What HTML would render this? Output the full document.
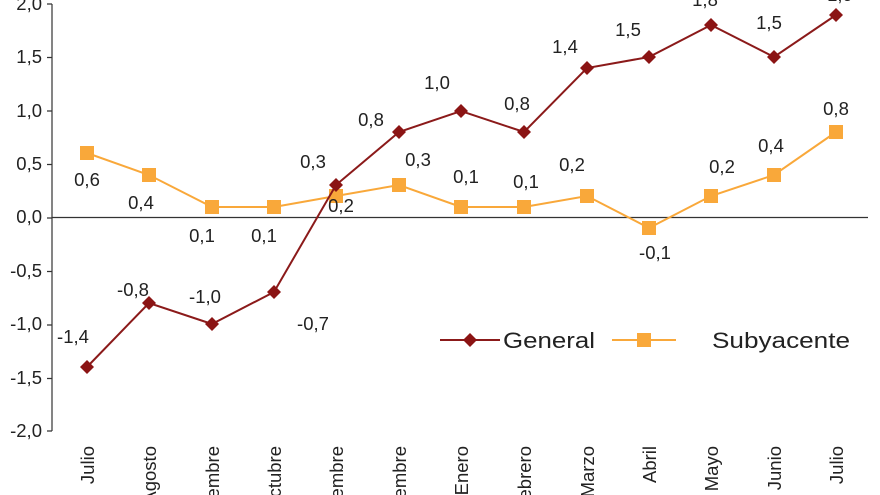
<!DOCTYPE html>
<html><head><meta charset="utf-8"><style>html,body{margin:0;background:#fff;overflow:hidden;width:880px;height:495px}svg{display:block}text{font-family:"Liberation Sans",sans-serif;fill:#222;font-size:18.5px}</style></head><body>
<svg width="880" height="495" xmlns="http://www.w3.org/2000/svg">
<g stroke="#333" stroke-width="1.2" fill="none">
<path d="M52,4V431M47,4H52M47,57.5H52M47,111H52M47,164.5H52M47,218H52M47,271.5H52M47,325H52M47,378.5H52M47,431H52"/>
<path d="M52,217.5H868"/>
</g>
<g text-anchor="end">
<text x="42" y="10">2,0</text><text x="42" y="63">1,5</text><text x="42" y="117">1,0</text><text x="42" y="170">0,5</text><text x="42" y="223">0,0</text><text x="42" y="277">-0,5</text><text x="42" y="330">-1,0</text><text x="42" y="384">-1,5</text><text x="42" y="437">-2,0</text>
</g>
<g text-anchor="end">
<text transform="translate(94,446) rotate(-90)">Julio</text>
<text transform="translate(156,446) rotate(-90)">Agosto</text>
<text transform="translate(219,446) rotate(-90)">Septiembre</text>
<text transform="translate(281,446) rotate(-90)">Octubre</text>
<text transform="translate(343,446) rotate(-90)">Noviembre</text>
<text transform="translate(406,446) rotate(-90)">Diciembre</text>
<text transform="translate(468,446) rotate(-90)">Enero</text>
<text transform="translate(531,446) rotate(-90)">Febrero</text>
<text transform="translate(594,446) rotate(-90)">Marzo</text>
<text transform="translate(656,446) rotate(-90)">Abril</text>
<text transform="translate(718,446) rotate(-90)">Mayo</text>
<text transform="translate(781,446) rotate(-90)">Junio</text>
<text transform="translate(843,446) rotate(-90)">Julio</text>
</g>
<polyline fill="none" stroke="#F9A83A" stroke-width="2" points="87,153 149,175 212,207 274,207 336,196 399,185 461,207 524,207 587,196 649,228 711,196 774,175 836,132"/>
<g fill="#F9A83A">
<rect x="80" y="146" width="14" height="14"/><rect x="142" y="168" width="14" height="14"/><rect x="205" y="200" width="14" height="14"/><rect x="267" y="200" width="14" height="14"/><rect x="329" y="189" width="14" height="14"/><rect x="392" y="178" width="14" height="14"/><rect x="454" y="200" width="14" height="14"/><rect x="517" y="200" width="14" height="14"/><rect x="580" y="189" width="14" height="14"/><rect x="642" y="221" width="14" height="14"/><rect x="704" y="189" width="14" height="14"/><rect x="767" y="168" width="14" height="14"/><rect x="829" y="125" width="14" height="14"/>
</g>
<polyline fill="none" stroke="#8B1A1A" stroke-width="2" points="87,367 149,303 212,324 274,292 336,185 399,132 461,111 524,132 587,68 649,57 711,25 774,57 836,15"/>
<g fill="#8B1414">
<path d="M87,360l7,7l-7,7l-7,-7z"/><path d="M149,296l7,7l-7,7l-7,-7z"/><path d="M212,317l7,7l-7,7l-7,-7z"/><path d="M274,285l7,7l-7,7l-7,-7z"/><path d="M336,178l7,7l-7,7l-7,-7z"/><path d="M399,125l7,7l-7,7l-7,-7z"/><path d="M461,104l7,7l-7,7l-7,-7z"/><path d="M524,125l7,7l-7,7l-7,-7z"/><path d="M587,61l7,7l-7,7l-7,-7z"/><path d="M649,50l7,7l-7,7l-7,-7z"/><path d="M711,18l7,7l-7,7l-7,-7z"/><path d="M774,50l7,7l-7,7l-7,-7z"/><path d="M836,8l7,7l-7,7l-7,-7z"/>
</g>
<g text-anchor="middle">
<text x="73" y="343">-1,4</text><text x="133" y="296">-0,8</text><text x="205" y="303">-1,0</text><text x="313" y="330">-0,7</text><text x="313" y="168">0,3</text><text x="371" y="126">0,8</text><text x="437" y="89">1,0</text><text x="517" y="110">0,8</text><text x="565" y="53">1,4</text><text x="628" y="36">1,5</text><text x="705" y="6">1,8</text><text x="769" y="29">1,5</text><text x="840" y="1">1,9</text>
<text x="87" y="186">0,6</text><text x="141" y="209">0,4</text><text x="202" y="242">0,1</text><text x="264" y="242">0,1</text><text x="341" y="212">0,2</text><text x="418" y="166">0,3</text><text x="466" y="183">0,1</text><text x="526" y="188">0,1</text><text x="572" y="171">0,2</text><text x="655" y="259">-0,1</text><text x="722" y="173">0,2</text><text x="771" y="152">0,4</text><text x="836" y="115">0,8</text>
</g>
<path d="M440,340H500" stroke="#8B1A1A" stroke-width="2"/><path d="M470,333l7,7l-7,7l-7,-7z" fill="#8B1414"/>
<text x="503" y="348" style="font-size:22px" textLength="92" lengthAdjust="spacingAndGlyphs">General</text>
<path d="M612,340H676" stroke="#F9A83A" stroke-width="2"/><rect x="637" y="333" width="14" height="14" fill="#F9A83A"/>
<text x="712" y="348" style="font-size:22px" textLength="138" lengthAdjust="spacingAndGlyphs">Subyacente</text>
</svg>
</body></html>
